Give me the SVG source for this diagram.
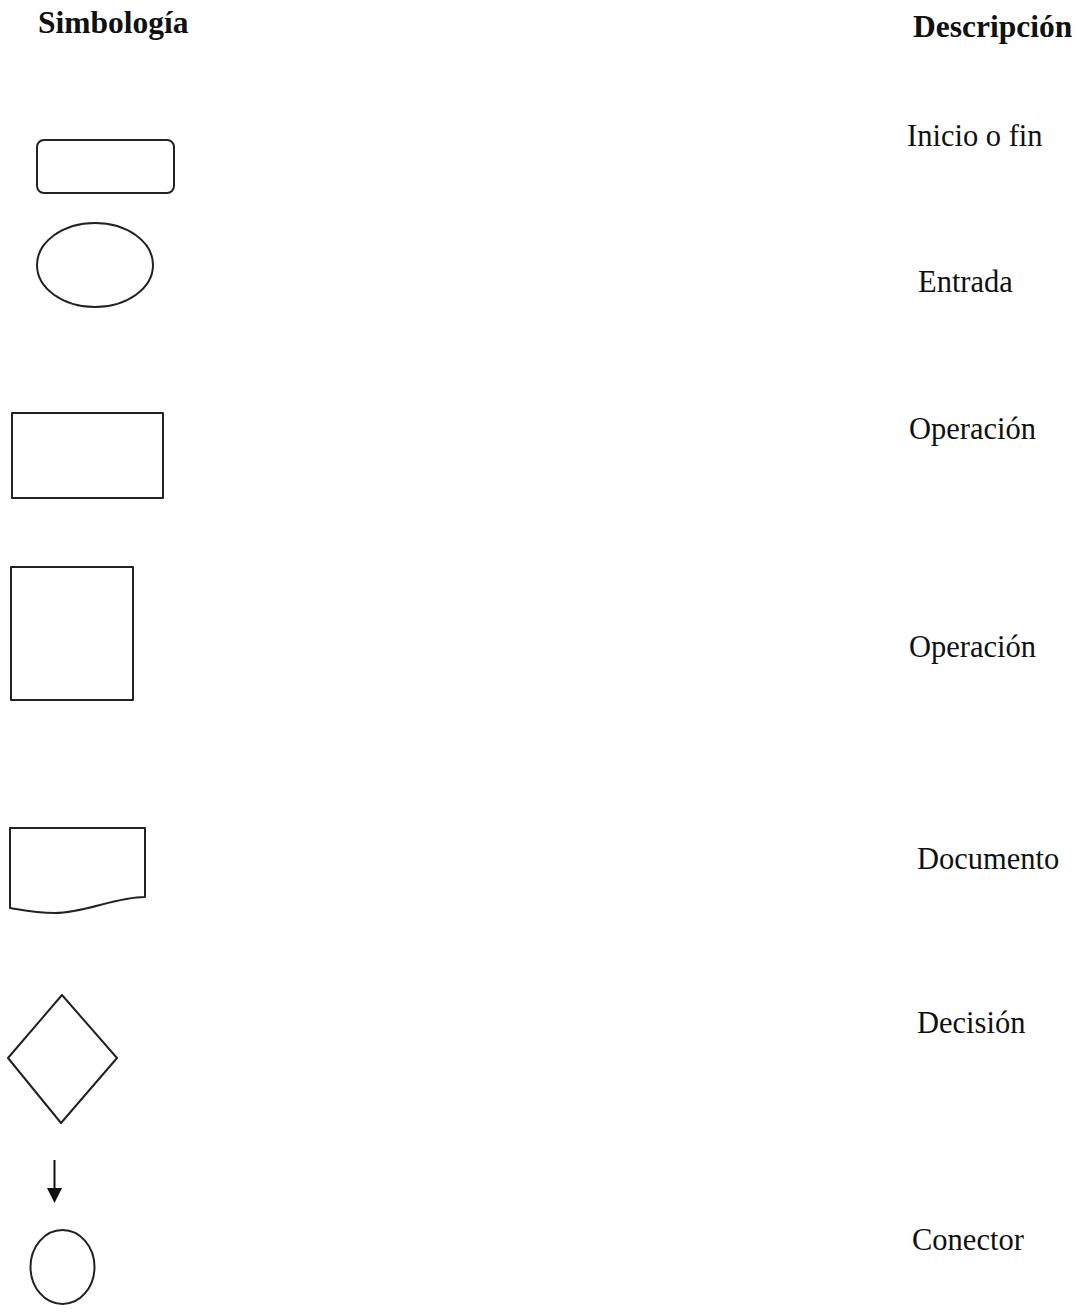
<svg xmlns="http://www.w3.org/2000/svg" width="1078" height="1312" viewBox="0 0 1078 1312">
<style>
.shape{fill:none;stroke:#222;stroke-width:2;stroke-linejoin:round}
.h{font-family:"Liberation Serif","Times New Roman",serif;font-weight:bold;font-size:31.5px;fill:#111}
.t{font-family:"Liberation Serif","Times New Roman",serif;font-size:30.5px;fill:#111}
</style>
<rect width="1078" height="1312" fill="#fff"/>
<text class="h" x="38" y="33">Simbología</text>
<text class="h" x="913" y="37">Descripción</text>
<g id="inicio-fin">
<rect class="shape" x="37" y="140" width="137" height="53" rx="7"/>
<text class="t" x="907" y="146">Inicio o fin</text>
</g>
<g id="entrada">
<ellipse class="shape" cx="95" cy="265" rx="58" ry="42"/>
<text class="t" x="918" y="292">Entrada</text>
</g>
<g id="operacion1">
<rect class="shape" x="12" y="413" width="151" height="85"/>
<text class="t" x="909" y="439">Operación</text>
</g>
<g id="operacion2">
<rect class="shape" x="11" y="567" width="122" height="133"/>
<text class="t" x="909" y="657">Operación</text>
</g>
<g id="documento">
<path class="shape" d="M10,828 H145 V897 C115,897 85,913 55,913 C35,913 22,910 10,908 Z"/>
<text class="t" x="917" y="869">Documento</text>
</g>
<g id="decision">
<path class="shape" d="M62,995 L117,1058 L61,1123 L8,1058 Z"/>
<text class="t" x="917" y="1033">Decisión</text>
</g>
<g id="connectors">
<line x1="54.5" y1="1160" x2="54.5" y2="1190" stroke="#111" stroke-width="2"/>
<path d="M47,1188 L62,1188 L54.5,1203 Z" fill="#111"/>
</g>
<g id="conector">
<ellipse class="shape" cx="62.5" cy="1267" rx="32" ry="37"/>
<text class="t" x="912" y="1250">Conector</text>
</g>
</svg>
